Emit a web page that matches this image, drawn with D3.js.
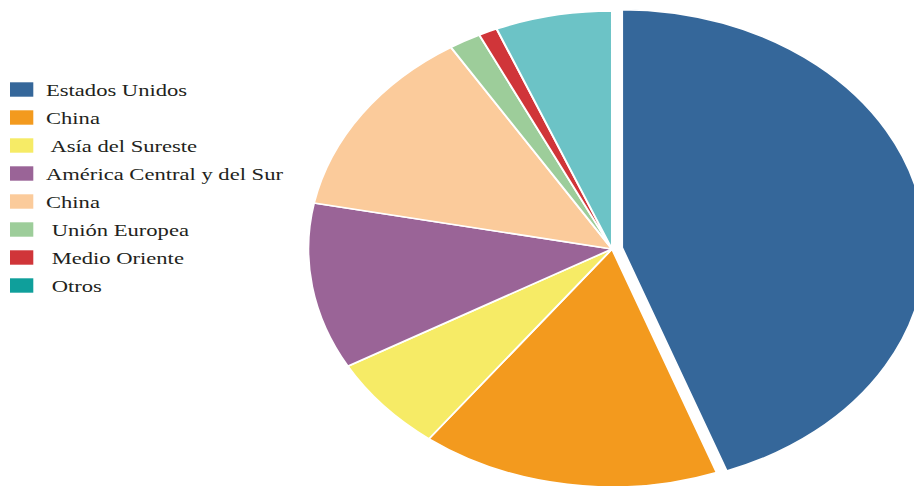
<!DOCTYPE html>
<html>
<head>
<meta charset="utf-8">
<script src="https://cdn.jsdelivr.net/npm/d3@7/dist/d3.min.js"></script>
<style>
  html, body { margin: 0; padding: 0; background: #ffffff; }
  svg { display: block; }
  .legend text { white-space: pre; }
</style>
</head>
<body>
<div id="chart"></div>
<script>
// Region names, in drawing order (clockwise from 12 o'clock)
const categories = [
  "Estados Unidos",
  "China",
  " Asía del Sureste",
  "América Central y del Sur",
  "China",
  " Unión Europea",
  " Medio Oriente",
  " Otros"
];
// Share of the total, percent
const shares = [44.4, 15.9, 6.5, 11.3, 13.0, 1.7, 1.0, 6.2];

// Fill colours for the slices and for the legend keys
const sliceColors  = ["#35679a", "#f39a1e", "#f6eb66", "#9a6497", "#fbcb9b", "#9dcd9a", "#d03539", "#6cc3c6"];
const legendColors = ["#35679a", "#f39a1e", "#f6eb66", "#9a6497", "#fbcb9b", "#9dcd9a", "#d03539", "#0f9f9b"];

const W = 914, H = 486;
const sx = 1.276;                 // the whole figure is widened horizontally
const innerW = W / sx;

const svg = d3.select("#chart").append("svg")
  .attr("width", W).attr("height", H);

const g = svg.append("g").attr("transform", `scale(${sx},1)`);

// ---- pie ----
const cx = 612 / sx, cy = 249, R = 238;
const explode = 8;                // the first slice is pulled out

const pie = d3.pie().sort(null).value(d => d).startAngle(0).endAngle(2 * Math.PI);
const arc = d3.arc().innerRadius(0).outerRadius(R);
const arcs = pie(shares);

const pieG = g.append("g").attr("transform", `translate(${cx},${cy})`);
pieG.selectAll("path")
  .data(arcs)
  .join("path")
  .attr("d", arc)
  .attr("fill", (d, i) => sliceColors[i])
  .attr("stroke", "#ffffff")
  .attr("stroke-width", 1.6)
  .attr("stroke-linejoin", "round")
  .attr("transform", (d, i) => {
    if (i !== 0) return null;
    const a = (d.startAngle + d.endAngle) / 2;
    return `translate(${Math.sin(a) * explode},${-Math.cos(a) * explode})`;
  });

// ---- legend ----
const rowY = d3.scalePoint()
  .domain(d3.range(categories.length))
  .range([89.5, 285.5]);

const legend = g.append("g").attr("class", "legend");
const rows = legend.selectAll("g")
  .data(categories)
  .join("g")
  .attr("transform", (d, i) => `translate(0,${rowY(i)})`);

rows.append("rect")
  .attr("x", 10 / sx).attr("y", -7.2)
  .attr("width", 23.3 / sx).attr("height", 14.4)
  .attr("fill", (d, i) => legendColors[i]);

rows.append("text")
  .attr("x", 46 / sx).attr("y", 6.2)
  .attr("font-family", "'Liberation Serif', 'Times New Roman', serif")
  .attr("font-size", 17.7)
  .attr("fill", "#231f20")
  .text(d => d);
</script>
</body>
</html>
